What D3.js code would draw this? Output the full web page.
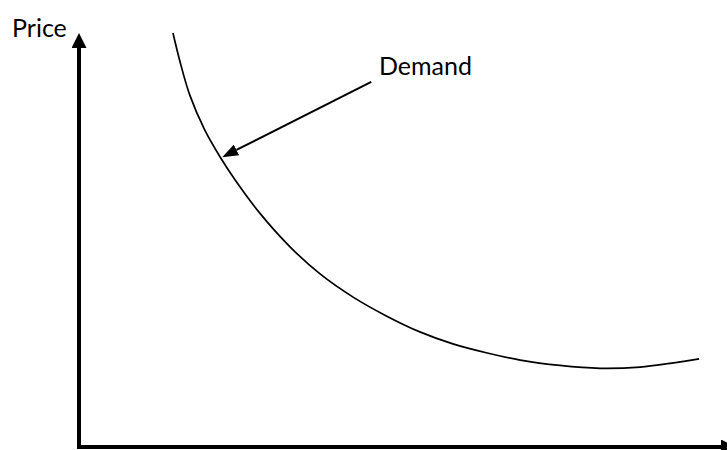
<!DOCTYPE html>
<html>
<head>
<meta charset="utf-8">
<script src="https://cdn.jsdelivr.net/npm/d3@7"></script>
<style>
  html, body { margin: 0; padding: 0; background: #fff; overflow: hidden; }
  text { font-family: Lato, "Open Sans", sans-serif; fill: #000; }
</style>
</head>
<body>
<div id="chart"></div>
<script>
// demand curve (quantity 0-100, price 0-100)
const quantity = [14.5, 15.6, 17.1, 19.4, 21.8, 24.1, 27.9, 32.6, 37.2, 42.3, 47.5, 52.6, 57.7, 63.0, 68.1, 74.2, 80.4, 86.6, 91.2, 95.7];
const price    = [100, 93.0, 85.0, 76.6, 70.0, 64.5, 56.5, 48.3, 41.8, 36.2, 31.6, 27.8, 24.9, 22.7, 21.0, 19.7, 19.0, 19.3, 20.2, 21.3];

const yLabel = 'Price';
const curveLabel = 'Demand';
// annotation arrow: from label towards the curve
const arrowFrom = [45.1, 88.2];
const arrowTo = [22.1, 70.0];
const labelAt = [46.3, 89.9];

const width = 727, height = 450;

const svg = d3.select('#chart').append('svg')
    .attr('width', width)
    .attr('height', height);

const x = d3.scaleLinear().domain([0, 100]).range([79, 727]);
const y = d3.scaleLinear().domain([0, 100]).range([447, 33]);

const defs = svg.append('defs');
defs.append('marker')
    .attr('id', 'axis-head')
    .attr('markerUnits', 'userSpaceOnUse')
    .attr('viewBox', '0 -7.5 15 15')
    .attr('refX', 0).attr('refY', 0)
    .attr('markerWidth', 15).attr('markerHeight', 15)
    .attr('orient', 'auto')
    .append('path')
    .attr('d', 'M0,-7.5L15,0L0,7.5Z')
    .attr('fill', '#000');

defs.append('marker')
    .attr('id', 'note-head')
    .attr('markerUnits', 'userSpaceOnUse')
    .attr('viewBox', '0 -6 16 12')
    .attr('refX', 0).attr('refY', 0)
    .attr('markerWidth', 16).attr('markerHeight', 12)
    .attr('orient', 'auto')
    .append('path')
    .attr('d', 'M0,-6L16,0L0,6Z')
    .attr('fill', '#000');

// y axis with arrow
svg.append('line')
    .attr('x1', x(0)).attr('y1', y(0) + 2)
    .attr('x2', x(0)).attr('y2', y(100) + 15)
    .attr('stroke', '#000')
    .attr('stroke-width', 4)
    .attr('marker-end', 'url(#axis-head)');

// x axis with arrow (runs off the right edge)
svg.append('line')
    .attr('x1', x(0) - 2).attr('y1', y(0))
    .attr('x2', 721).attr('y2', y(0))
    .attr('stroke', '#000')
    .attr('stroke-width', 4)
    .attr('marker-end', 'url(#axis-head)');

svg.append('text')
    .attr('x', 12)
    .attr('y', 37)
    .style('font-size', '25px')
    .text(yLabel);

// demand curve
const line = d3.line()
    .x((d, i) => x(quantity[i]))
    .y((d) => y(d))
    .curve(d3.curveCatmullRom.alpha(0.5));

svg.append('path')
    .datum(price)
    .attr('fill', 'none')
    .attr('stroke', '#000')
    .attr('stroke-width', 1.7)
    .attr('d', line);

// annotation
const ax1 = x(arrowFrom[0]), ay1 = y(arrowFrom[1]);
const ax2 = x(arrowTo[0]), ay2 = y(arrowTo[1]);
const len = Math.hypot(ax2 - ax1, ay2 - ay1);
const headLen = 16;
svg.append('line')
    .attr('x1', ax1).attr('y1', ay1)
    .attr('x2', ax2 - (ax2 - ax1) / len * headLen)
    .attr('y2', ay2 - (ay2 - ay1) / len * headLen)
    .attr('stroke', '#000')
    .attr('stroke-width', 2)
    .attr('marker-end', 'url(#note-head)');

svg.append('text')
    .attr('x', x(labelAt[0]))
    .attr('y', y(labelAt[1]))
    .style('font-size', '25px')
    .text(curveLabel);
</script>
</body>
</html>
